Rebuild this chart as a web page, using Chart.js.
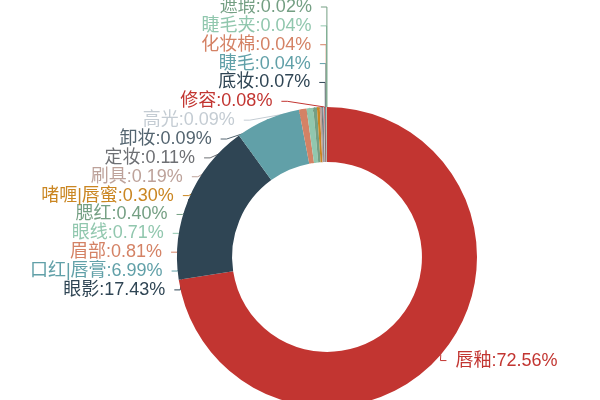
<!DOCTYPE html>
<html>
<head>
<meta charset="utf-8">
<script src="https://cdn.jsdelivr.net/npm/chart.js@4/dist/chart.umd.min.js"></script>
<style>
html,body{margin:0;padding:0;background:#fff;overflow:hidden}
#wrap{width:600px;height:420px;position:relative}
</style>
</head>
<body>
<div id="wrap"><canvas id="c"></canvas></div>
<script>
// ---- data ----
const categories = ['唇釉','眼影','口红|唇膏','眉部','眼线','腮红','啫喱|唇蜜','刷具','定妆','卸妆','高光','修容','底妆','睫毛','化妆棉','睫毛夹','遮瑕'];
const shares = [72.56,17.43,6.99,0.81,0.71,0.40,0.30,0.19,0.11,0.09,0.09,0.08,0.07,0.04,0.04,0.04,0.02];
const palette = ['#c23531','#2f4554','#61a0a8','#d48265','#91c7ae','#749f83','#ca8622','#bda29a','#6e7074','#546570','#c4ccd3'];
const colors = categories.map((_, i) => palette[i % palette.length]);

// ---- label layout (pie-style outside labels with leader lines) ----
const LEN = 9, LEN2 = 6, GAP = 9, LABEL_H = 18.86, VIEW_TOP = 7;
const FONT = '18px "Liberation Sans", "Noto Sans CJK SC", sans-serif';

// spread overlapping labels into clusters centred on their ideal positions
function spreadY(list, top, bottom, h) {
  list.sort((a, b) => a.y - b.y);
  const clusters = [];
  const place = c => {
    let s = 0;
    c.items.forEach((it, k) => { s += it.ideal - k * h; });
    let start = s / c.items.length;
    start = Math.min(start, bottom - (c.items.length - 1) * h);
    start = Math.max(start, top);
    c.start = start;
    c.end = start + (c.items.length - 1) * h;
  };
  list.forEach(it => {
    it.ideal = it.y;
    const c = { items: [it] };
    place(c);
    clusters.push(c);
    while (clusters.length > 1) {
      const b = clusters[clusters.length - 1], a = clusters[clusters.length - 2];
      if (a.end + h > b.start) {
        a.items = a.items.concat(b.items);
        clusters.pop();
        place(a);
      } else break;
    }
  });
  clusters.forEach(c => c.items.forEach((it, k) => { it.y = c.start + k * h; }));
}

function changeX(sub, cx, cy, r, dir, isDown) {
  let last = isDown ? Number.MAX_VALUE : 0;
  for (const it of sub) {
    const dy = Math.abs(it.y - cy);
    let dX = dy < r + it.len
      ? Math.sqrt((r + it.len + it.len2) * (r + it.len + it.len2) - dy * dy)
      : Math.abs(it.x - cx);
    if (isDown && dX >= last) dX = last - 10;
    if (!isDown && dX <= last) dX = last + 10;
    it.x = cx + dX * dir;
    last = dX;
  }
}

function adjustSide(list, cx, cy, r, dir, top, bottom) {
  spreadY(list, top, bottom, LABEL_H);
  const up = [], down = [];
  list.forEach(it => (it.y >= cy ? down : up).push(it));
  changeX(up, cx, cy, r, dir, false);
  changeX(down, cx, cy, r, dir, true);
}

function computeLabels(chart) {
  const meta = chart.getDatasetMeta(0);
  const items = [];
  let cx = 0, cy = 0, r = 0;
  meta.data.forEach((arc, i) => {
    const p = arc.getProps(['x', 'y', 'startAngle', 'endAngle', 'outerRadius'], true);
    cx = p.x; cy = p.y; r = p.outerRadius;
    const mid = (p.startAngle + p.endAngle) / 2;
    const dx = Math.cos(mid), dy = Math.sin(mid);
    const dir = dx < 0 ? -1 : 1;
    const p0 = [cx + r * dx, cy + r * dy];
    const p1 = [cx + (r + LEN) * dx, cy + (r + LEN) * dy];
    const p2 = [p1[0] + dir * LEN2, p1[1]];
    items.push({
      i, dir, p0, p1, p2,
      x: p2[0] + dir * GAP, y: p2[1],
      len: LEN, len2: LEN2,
      text: categories[i] + ':' + shares[i].toFixed(2) + '%',
      color: colors[i]
    });
  });
  const bottom = chart.height - LABEL_H / 2;
  adjustSide(items.filter(it => it.dir < 0), cx, cy, r, -1, VIEW_TOP, bottom);
  adjustSide(items.filter(it => it.dir > 0), cx, cy, r, 1, VIEW_TOP, bottom);
  items.forEach(it => {
    const dist = it.p1[0] - it.p2[0];
    it.p2[0] = it.x - it.dir * GAP;
    it.p1[1] = it.p2[1] = it.y;
    it.p1[0] = it.p2[0] + dist;
  });
  return items;
}

const pieLabels = {
  id: 'pieLabels',
  beforeDatasetsDraw(chart) {
    const items = computeLabels(chart);
    chart.$pieLabels = items;
    const ctx = chart.ctx;
    ctx.save();
    ctx.lineWidth = 1;
    items.forEach(it => {
      ctx.strokeStyle = it.color;
      ctx.beginPath();
      ctx.moveTo(it.p0[0], it.p0[1]);
      ctx.lineTo(it.p1[0], it.p1[1]);
      ctx.lineTo(it.p2[0], it.p2[1]);
      ctx.stroke();
    });
    ctx.restore();
  },
  afterDatasetsDraw(chart) {
    const items = chart.$pieLabels || [];
    const ctx = chart.ctx;
    ctx.save();
    ctx.font = FONT;
    ctx.textBaseline = 'middle';
    items.forEach(it => {
      ctx.fillStyle = it.color;
      ctx.textAlign = it.dir < 0 ? 'right' : 'left';
      ctx.fillText(it.text, it.x, it.y);
    });
    ctx.restore();
  }
};

new Chart(document.getElementById('c'), {
  type: 'doughnut',
  data: {
    labels: categories,
    datasets: [{
      data: shares,
      backgroundColor: colors,
      borderWidth: 0,
      hoverOffset: 0
    }]
  },
  options: {
    responsive: true,
    maintainAspectRatio: false,
    animation: false,
    events: [],
    cutout: '63.3%',
    layout: { padding: { left: 177, right: 123, top: 107, bottom: 13 } },
    plugins: { legend: { display: false }, tooltip: { enabled: false } }
  },
  plugins: [pieLabels]
});
</script>
</body>
</html>
